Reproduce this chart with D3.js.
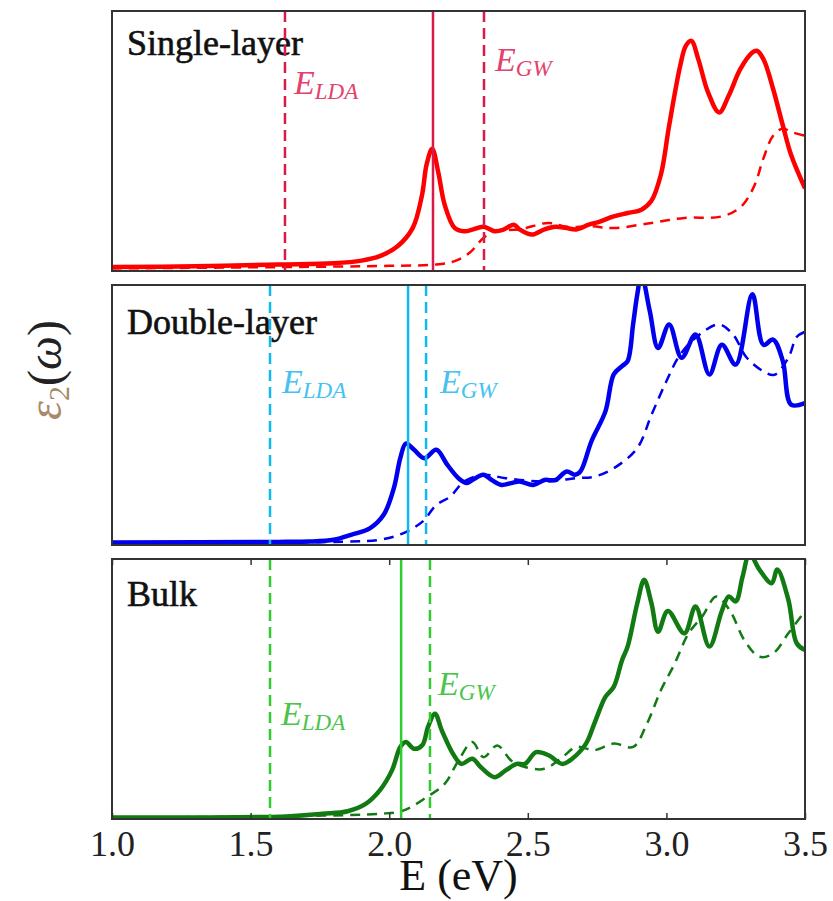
<!DOCTYPE html>
<html>
<head>
<meta charset="utf-8">
<script src="https://d3js.org/d3.v7.min.js"></script>
<style>
body { margin: 0; background: #fff; }
svg text { font-family: "Liberation Serif", "DejaVu Serif", serif; }
</style>
</head>
<body>
<svg id="chart" width="833" height="901"></svg>
<script>
// x ticks
var xTicks = [1.0, 1.5, 2.0, 2.5, 3.0, 3.5];

// panel names
var panelNames = ["Single-layer", "Double-layer", "Bulk"];

// vertical markers [E_LDA, solid, E_GW] in eV
var singleMarks = [1.624, 2.158, 2.342];
var doubleMarks = [1.570, 2.068, 2.133];
var bulkMarks = [1.570, 2.043, 2.147];

// eps2 curves, [E (eV), value in % of panel height]
var singleSolid = [[1.0,1.5],[1.3,1.8],[1.6,2.5],[1.8,3],[1.9,4],[1.966,5.7],[2.03,9.5],[2.085,16.6],[2.118,29],[2.135,41],[2.155,47],[2.177,38],[2.2,25.5],[2.236,16.6],[2.27,15.3],[2.3,15.9],[2.34,17],[2.38,15.3],[2.41,15.8],[2.45,17.8],[2.47,16],[2.515,14],[2.56,16],[2.6,17],[2.64,16.5],[2.675,16],[2.72,17.8],[2.76,19],[2.81,21],[2.86,22.3],[2.91,23.6],[2.946,27],[2.98,37],[3.01,56],[3.05,79],[3.07,86.6],[3.09,88.5],[3.115,81.5],[3.15,68.8],[3.19,61],[3.225,67.5],[3.267,77.7],[3.31,84],[3.326,84.7],[3.35,81.5],[3.385,70],[3.42,56],[3.45,44.6],[3.5,31.8]];
var singleDashed = [[1.0,1],[1.6,1.5],[2.0,2],[2.17,2.5],[2.236,3.8],[2.29,7],[2.34,12.7],[2.38,15.3],[2.47,16],[2.575,18.5],[2.64,17],[2.73,17.2],[2.81,16.5],[2.946,18.5],[3.065,20.4],[3.2,21],[3.27,24.8],[3.318,33],[3.35,43.3],[3.385,52],[3.42,54.8],[3.45,53.5],[3.5,52]];

var doubleSolid = [[1.0,1],[1.6,1.2],[1.71,1.3],[1.8,2],[1.865,4],[1.93,6.4],[1.98,11.6],[2.017,22],[2.04,33.4],[2.06,39],[2.09,36.6],[2.127,33.4],[2.17,36.6],[2.21,30.8],[2.25,25.7],[2.28,23.8],[2.3,25],[2.34,27],[2.37,25],[2.405,23.1],[2.44,23.8],[2.47,24.4],[2.52,23.1],[2.56,25],[2.6,25],[2.64,28.3],[2.67,27],[2.69,28.3],[2.73,40],[2.78,51.4],[2.81,65.6],[2.84,68.8],[2.86,70.7],[2.88,85],[2.895,96.4],[2.91,104],[2.94,90],[2.97,75.8],[3.01,84.8],[3.055,72],[3.105,81],[3.155,65.6],[3.2,77],[3.25,69.4],[3.31,96.4],[3.35,77],[3.385,79],[3.42,70.7],[3.45,54],[3.5,54.6]];
var doubleDashed = [[1.0,0.8],[1.85,1.3],[1.966,2],[2.05,4.5],[2.12,9],[2.17,15.4],[2.22,18.6],[2.27,24.4],[2.34,27],[2.42,25.7],[2.56,24.4],[2.675,25.7],[2.74,26.3],[2.81,29.5],[2.895,37.3],[2.946,50],[3.0,63],[3.05,73.3],[3.12,81],[3.19,84.8],[3.24,81],[3.29,72],[3.35,66.8],[3.39,65.5],[3.44,72],[3.47,80],[3.5,82]];

var bulkSolid = [[1.0,0.6],[1.63,1],[1.76,2],[1.85,3],[1.915,5.8],[1.966,11],[2.01,18.7],[2.04,27.7],[2.06,29.6],[2.09,27],[2.12,28.5],[2.14,35.4],[2.165,40.5],[2.19,34],[2.23,25.1],[2.26,21.2],[2.3,23.2],[2.33,20],[2.38,16.1],[2.42,18.7],[2.46,21.2],[2.49,21.2],[2.53,25.7],[2.575,24.5],[2.625,21.2],[2.66,23.2],[2.71,29],[2.74,36.7],[2.78,47],[2.81,50.8],[2.84,61.1],[2.86,66.3],[2.895,83],[2.92,92],[2.946,83],[2.97,72],[3.005,80],[3.065,71.4],[3.105,81.7],[3.155,66.3],[3.2,80],[3.225,85.6],[3.25,83.7],[3.275,93.3],[3.3,102],[3.335,96],[3.38,90.7],[3.4,96],[3.44,84.3],[3.47,67.6],[3.5,65]];
var bulkDashed = [[1.0,0.5],[1.76,1.3],[1.966,2],[2.05,3.2],[2.135,8.4],[2.2,13.5],[2.25,22.5],[2.3,29.6],[2.34,23.8],[2.39,28.3],[2.44,22.5],[2.49,20],[2.56,19.3],[2.625,23.8],[2.675,27.7],[2.74,26.5],[2.81,29],[2.88,27.7],[2.93,36.7],[2.98,49.5],[3.03,59.8],[3.08,71.4],[3.13,78],[3.18,85.6],[3.23,80],[3.28,69],[3.335,62.4],[3.385,63.7],[3.44,71.4],[3.5,80]];

var svg = d3.select("#chart");
var left = 112, right = 805, panelH = 260;
var x = d3.scaleLinear().domain([1, 3.5]).range([left, right]);

var panels = [
	{ name: panelNames[0], top: 11, titleY: 55, solid: singleSolid, dashed: singleDashed, marks: singleMarks,
	  curve: "#ff0000", mark: "#d81b47", label: "#e2436d",
	  lda: [294, 94], gw: [495, 71] },
	{ name: panelNames[1], top: 285, titleY: 334, solid: doubleSolid, dashed: doubleDashed, marks: doubleMarks,
	  curve: "#0000ee", mark: "#10b8f0", label: "#45c2f2",
	  lda: [282, 393], gw: [440, 393] },
	{ name: panelNames[2], top: 559, titleY: 606, solid: bulkSolid, dashed: bulkDashed, marks: bulkMarks,
	  curve: "#127a12", mark: "#2fcc2f", label: "#4cc44c",
	  lda: [281, 725], gw: [438, 695] }
];

function addLabel(g, pos, sub, color) {
	var t = g.append("text")
		.attr("x", pos[0]).attr("y", pos[1])
		.attr("fill", color)
		.attr("font-style", "italic");
	t.append("tspan").attr("font-size", 34).text("E");
	t.append("tspan").attr("font-size", 23).attr("dy", 5).text(sub);
}

panels.forEach(function(p, i) {
	var y = d3.scaleLinear().domain([0, 100]).range([p.top + panelH, p.top]);
	var g = svg.append("g");

	svg.append("clipPath").attr("id", "clip" + i)
		.append("rect").attr("x", left).attr("y", p.top)
		.attr("width", right - left).attr("height", panelH);

	var line = d3.line()
		.x(function(d) { return x(d[0]); })
		.y(function(d) { return y(d[1]); })
		.curve(d3.curveCatmullRom.alpha(0.5));

	// title
	g.append("text")
		.attr("x", 127).attr("y", p.titleY)
		.attr("font-size", 36)
		.attr("fill", "#111")
		.attr("stroke", "#111")
		.attr("stroke-width", 0.6)
		.text(p.name);

	var plot = g.append("g").attr("clip-path", "url(#clip" + i + ")");

	plot.append("path").datum(p.dashed)
		.attr("fill", "none")
		.attr("stroke", p.curve)
		.attr("stroke-width", 2.5)
		.attr("stroke-dasharray", "10,7")
		.attr("d", line);

	plot.append("path").datum(p.solid)
		.attr("fill", "none")
		.attr("stroke", p.curve)
		.attr("stroke-width", 4.5)
		.attr("stroke-linejoin", "round")
		.attr("d", line);

	// vertical markers
	p.marks.forEach(function(m, k) {
		plot.append("line")
			.attr("x1", x(m)).attr("x2", x(m))
			.attr("y1", p.top).attr("y2", p.top + panelH)
			.attr("stroke", p.mark)
			.attr("stroke-width", 2.5)
			.attr("stroke-dasharray", k == 1 ? null : "11,6");
	});

	addLabel(g, p.lda, "LDA", p.label);
	addLabel(g, p.gw, "GW", p.label);

	// frame
	g.append("rect")
		.attr("x", left).attr("y", p.top)
		.attr("width", right - left).attr("height", panelH)
		.attr("fill", "none")
		.attr("stroke", "#333")
		.attr("stroke-width", 2);
});

// x axis on the bottom panel, ticks pointing in
var bottom = panels[2].top + panelH;
var axB = svg.append("g").attr("transform", "translate(0," + bottom + ")")
	.call(d3.axisBottom(x).tickValues(xTicks).tickFormat(d3.format(".1f")).tickSize(-6));
axB.select(".domain").remove();
axB.selectAll("line").attr("stroke", "#333").attr("stroke-width", 1.5);
axB.selectAll("text")
	.attr("y", 37).attr("dy", 0)
	.attr("font-size", 36)
	.attr("fill", "#222");

var axT = svg.append("g").attr("transform", "translate(0," + panels[2].top + ")")
	.call(d3.axisTop(x).tickValues(xTicks).tickFormat("").tickSize(-6));
axT.select(".domain").remove();
axT.selectAll("line").attr("stroke", "#333").attr("stroke-width", 1.5);

// axis titles
svg.append("text")
	.attr("x", (left + right) / 2).attr("y", 890)
	.attr("text-anchor", "middle")
	.attr("font-size", 44)
	.attr("fill", "#111")
	.text("E (eV)");

var yl = svg.append("text")
	.attr("transform", "translate(61,370) rotate(-90)")
	.attr("text-anchor", "middle")
	.attr("font-size", 48);
yl.append("tspan").attr("fill", "#a88a6a").attr("font-style", "italic").text("ε");
yl.append("tspan").attr("fill", "#a88a6a").attr("font-size", 30).attr("dy", 8).text("2");
yl.append("tspan").attr("fill", "#222").attr("dy", -8).text("(");
yl.append("tspan").attr("fill", "#222").attr("font-style", "italic").text("ω");
yl.append("tspan").attr("fill", "#222").text(")");
</script>
</body>
</html>
